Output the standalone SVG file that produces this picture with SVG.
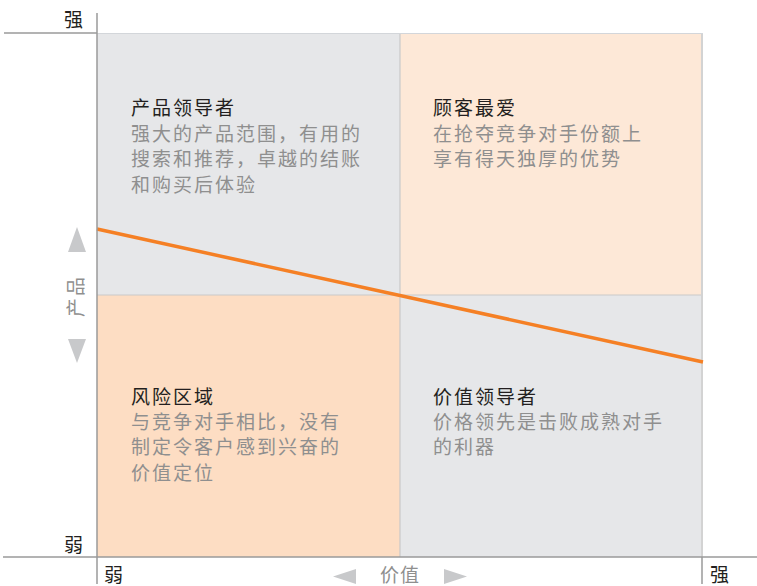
<svg xmlns="http://www.w3.org/2000/svg" width="757" height="586" viewBox="0 0 757 586">
<style>
text{font-family:"Noto Sans CJK SC","Noto Sans",sans-serif;font-size:19px;letter-spacing:2px}
.t{fill:#231f20}
.b{fill:#8f8f8f}
.ax{fill:#231f20;letter-spacing:0}
.axl{stroke:#9a9a9a;stroke-width:1.5;fill:none}
.div{stroke:#c9c9c9;stroke-width:1.2;fill:none}
.tri{fill:#c8c9cb}
</style>
<rect width="757" height="586" fill="#ffffff"/>
<g id="q-product-leader">
<rect x="97" y="33" width="303" height="262" fill="#e6e7e9"/>
<text class="t" x="131" y="115">产品领导者</text>
<text class="b" x="131" y="141">强大的产品范围，有用的</text>
<text class="b" x="131" y="166">搜索和推荐，卓越的结账</text>
<text class="b" x="131" y="192">和购买后体验</text>
</g>
<g id="q-customer-favorite">
<rect x="400" y="33" width="303" height="262" fill="#fde8d7"/>
<text class="t" x="433" y="115">顾客最爱</text>
<text class="b" x="433" y="141">在抢夺竞争对手份额上</text>
<text class="b" x="433" y="166">享有得天独厚的优势</text>
</g>
<g id="q-risk-zone">
<rect x="97" y="295" width="303" height="262" fill="#fdddc3"/>
<text class="t" x="131" y="404">风险区域</text>
<text class="b" x="131" y="429">与竞争对手相比，没有</text>
<text class="b" x="131" y="454">制定令客户感到兴奋的</text>
<text class="b" x="131" y="480">价值定位</text>
</g>
<g id="q-value-leader">
<rect x="400" y="295" width="303" height="262" fill="#e6e7e9"/>
<text class="t" x="433" y="404">价值领导者</text>
<text class="b" x="433" y="429">价格领先是击败成熟对手</text>
<text class="b" x="433" y="454">的利器</text>
</g>
<g id="dividers">
<line class="div" x1="400" y1="33" x2="400" y2="557"/>
<line class="div" x1="97" y1="295" x2="703" y2="295"/>
<line x1="702" y1="33" x2="702" y2="557" stroke="#d3d3d3" stroke-width="2"/>
<line x1="97" y1="33.5" x2="703" y2="33.5" stroke="#d3d6da" stroke-width="1"/>
</g>
<g id="connectors">
<line x1="97" y1="229" x2="703" y2="362" stroke="#f58025" stroke-width="3.5"/>
</g>
<g id="axes">
<line class="axl" x1="4" y1="33" x2="97" y2="33"/>
<line class="axl" x1="97" y1="13" x2="97" y2="584"/>
<line class="axl" x1="3" y1="557" x2="757" y2="557"/>
<line class="axl" x1="702" y1="557" x2="702" y2="584"/>
<text class="ax" x="64" y="27">强</text>
<text class="ax" x="64" y="552">弱</text>
<text class="ax" x="104" y="582">弱</text>
<text class="ax" x="710" y="582">强</text>
</g>
<g id="y-axis-label">
<polygon class="tri" points="77,227 86,252 68,252"/>
<polygon class="tri" points="68,339 86,339 77,363"/>
<text class="b" transform="translate(83,296) rotate(-90)" text-anchor="middle" style="letter-spacing:2px;font-size:19px">产品</text>
</g>
<g id="x-axis-label">
<polygon class="tri" points="333,576.5 356,569 356,584"/>
<polygon class="tri" points="467,576.5 444,569 444,584"/>
<text class="b" x="400" y="582" text-anchor="middle" style="letter-spacing:1px">价值</text>
</g>
</svg>
